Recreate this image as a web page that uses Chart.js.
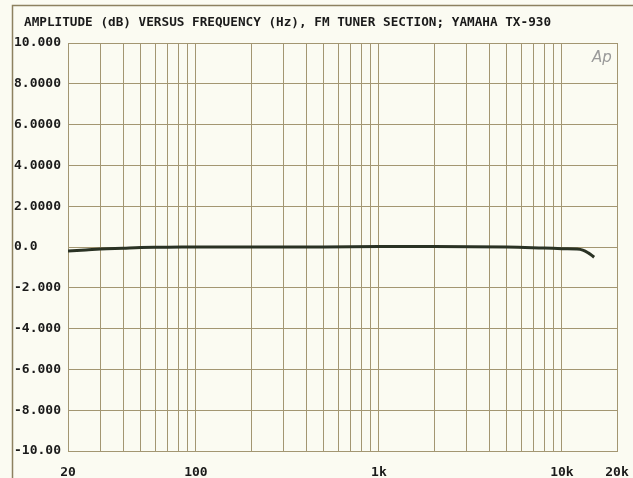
<!DOCTYPE html>
<html>
<head>
<meta charset="utf-8">
<script src="https://cdn.jsdelivr.net/npm/chart.js@4/dist/chart.umd.min.js"></script>
<style>
html,body{margin:0;padding:0;background:#fbfbf2;}
#wrap{position:relative;width:633px;height:478px;}
canvas{display:block;}
</style>
</head>
<body>
<div id="wrap"><canvas id="c" width="633" height="478"></canvas></div>
<script>
const TITLE = "AMPLITUDE (dB) VERSUS FREQUENCY (Hz), FM TUNER SECTION; YAMAHA TX-930";
const frequencies = [20, 25, 30, 40, 50, 70, 100, 200, 500, 1000, 2000, 5000, 8000, 10000, 12000, 13000, 14000, 15000];
const amplitudeDb = [-0.2, -0.15, -0.1, -0.06, -0.03, -0.01, 0, 0, 0, 0.02, 0.02, 0, -0.05, -0.08, -0.1, -0.15, -0.3, -0.5];
const xGridValues = [20,30,40,50,60,70,80,90,100,200,300,400,500,600,700,800,900,1000,2000,3000,4000,5000,6000,7000,8000,9000,10000,20000];
const xTickLabels = {20:"20", 100:"100", 1000:"1k", 10000:"10k", 20000:"20k"};
const yTickLabels = {10:"10.000", 8:"8.0000", 6:"6.0000", 4:"4.0000", 2:"2.0000", 0:"0.0", "-2":"-2.000", "-4":"-4.000", "-6":"-6.000", "-8":"-8.000", "-10":"-10.00"};

const GRID = '#a39672';
const FONT = {family: '"DejaVu Sans Mono", monospace', size: 13, weight: 'bold'};

const decor = {
  id: 'decor',
  beforeDraw(chart) {
    const ctx = chart.ctx;
    ctx.save();
    ctx.fillStyle = '#fbfbf2';
    ctx.fillRect(0, 0, chart.width, chart.height);
    ctx.strokeStyle = '#8d8160';
    ctx.lineWidth = 1.5;
    ctx.beginPath();
    ctx.moveTo(12.5, chart.height);
    ctx.lineTo(12.5, 5.5);
    ctx.lineTo(chart.width, 5.5);
    ctx.stroke();
    ctx.fillStyle = '#1a1a1a';
    ctx.font = 'bold 12.7px "DejaVu Sans Mono", monospace';
    ctx.textBaseline = 'middle';
    ctx.textAlign = 'left';
    ctx.fillText(TITLE, 24, 23);
    ctx.restore();
  },
  afterDraw(chart) {
    const ctx = chart.ctx;
    ctx.save();
    ctx.fillStyle = '#9a9a9a';
    ctx.font = 'italic 15px "DejaVu Sans", sans-serif';
    ctx.textAlign = 'left';
    ctx.textBaseline = 'middle';
    ctx.fillText('Ap', 592, 58);
    ctx.restore();
  }
};

new Chart(document.getElementById('c'), {
  type: 'line',
  data: {
    datasets: [{
      data: frequencies.map((f, i) => ({x: f, y: amplitudeDb[i]})),
      borderColor: '#2a3224',
      borderWidth: 3,
      pointRadius: 0,
      tension: 0.4,
      fill: false
    }]
  },
  options: {
    responsive: false,
    animation: false,
    layout: {padding: {left: 14, top: 43, right: 16, bottom: 0}},
    plugins: {legend: {display: false}, tooltip: {enabled: false}, title: {display: false}},
    scales: {
      x: {
        type: 'logarithmic',
        min: 20, max: 20000,
        afterBuildTicks(scale) { scale.ticks = xGridValues.map(v => ({value: v})); },
        afterFit(scale) { scale.height = 27; scale.paddingLeft = 0; scale.paddingRight = 0; },
        grid: {color: GRID, lineWidth: 1, drawTicks: false},
        border: {color: GRID, width: 1},
        ticks: {
          autoSkip: false, maxRotation: 0, padding: 14,
          color: '#1a1a1a', font: FONT,
          callback: (v) => xTickLabels[v] || ''
        }
      },
      y: {
        min: -10, max: 10,
        afterBuildTicks(scale) {
          scale.ticks = Object.keys(yTickLabels).map(Number).sort((a,b)=>a-b).map(v => ({value: v}));
        },
        afterFit(scale) { scale.width = 54; scale.paddingTop = 0; scale.paddingBottom = 0; },
        grid: {color: GRID, lineWidth: 1, drawTicks: false},
        border: {color: GRID, width: 1},
        ticks: {
          crossAlign: 'far', padding: 4,
          color: '#1a1a1a', font: FONT,
          callback: (v) => yTickLabels[v]
        }
      }
    }
  },
  plugins: [decor]
});
</script>
</body>
</html>
